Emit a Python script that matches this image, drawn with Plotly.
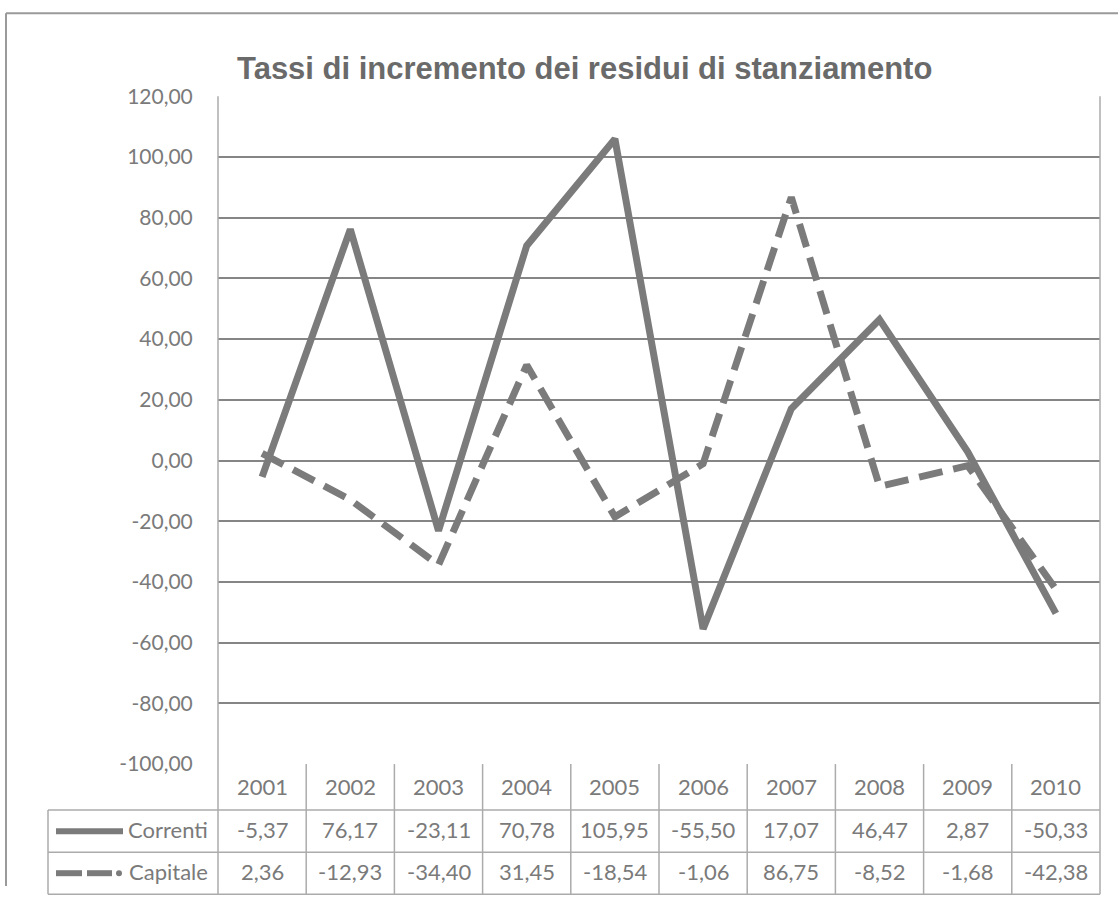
import plotly.graph_objects as go

title = "Tassi di incremento dei residui di stanziamento"
years = ["2001", "2002", "2003", "2004", "2005", "2006", "2007", "2008", "2009", "2010"]
correnti = [-5.37, 76.17, -23.11, 70.78, 105.95, -55.50, 17.07, 46.47, 2.87, -50.33]
capitale = [2.36, -12.93, -34.40, 31.45, -18.54, -1.06, 86.75, -8.52, -1.68, -42.38]
series_names = ["Correnti", "Capitale"]
y_ticks = [120, 100, 80, 60, 40, 20, 0, -20, -40, -60, -80, -100]

W, H = 1118, 897
LINE_COL = "#7b7b7b"
TEXT_COL = "#7a7a7a"
GRID_COL = "#858585"
TABLE_COL = "#ababab"
FONT = "Lato"
TXT_SHIFT = -14

# vertical calibration of the photographed page
V_OFF, V_SC = 13.8, 0.971

def px_x(p):
    return p / W

def px_y(p):
    f = (p - V_OFF) / V_SC
    return 1 - f / H

plot_l, plot_r, plot_t, plot_b = 218, 1100, 96, 763
row_top, row_mid, row_bot = 809, 851, 893
tab_l = 48

def fmt(v):
    return f"{v:.2f}".replace(".", ",")

xs = list(range(len(years)))

fig = go.Figure()
fig.add_trace(go.Scatter(x=xs, y=correnti, mode="lines", name=series_names[0],
                         line=dict(color=LINE_COL, width=7), showlegend=False))
fig.add_trace(go.Scatter(x=xs, y=capitale, mode="lines", name=series_names[1],
                         line=dict(color=LINE_COL, width=7, dash="24px,11px"), showlegend=False))

shapes = []
# outer frame
shapes.append(dict(type="line", xref="paper", yref="paper", x0=px_x(6), x1=1, y0=px_y(13), y1=px_y(13),
                   line=dict(color="#9a9a9a", width=2)))
shapes.append(dict(type="line", xref="paper", yref="paper", x0=px_x(6), x1=px_x(6), y0=px_y(13), y1=0,
                   line=dict(color="#9a9a9a", width=2)))
# plot left & right borders
shapes.append(dict(type="line", xref="paper", yref="paper", x0=px_x(plot_l), x1=px_x(plot_l),
                   y0=px_y(plot_t), y1=px_y(row_bot), line=dict(color=TABLE_COL, width=1.5)))
shapes.append(dict(type="line", xref="paper", yref="paper", x0=px_x(plot_r), x1=px_x(plot_r),
                   y0=px_y(plot_t), y1=px_y(row_bot), line=dict(color=TABLE_COL, width=1.5)))
# table horizontal lines
for yy in (row_top, row_mid, row_bot):
    shapes.append(dict(type="line", xref="paper", yref="paper", x0=px_x(tab_l), x1=px_x(plot_r),
                       y0=px_y(yy), y1=px_y(yy), line=dict(color=TABLE_COL, width=1.5)))
shapes.append(dict(type="line", xref="paper", yref="paper", x0=px_x(tab_l), x1=px_x(tab_l),
                   y0=px_y(row_top), y1=px_y(row_bot), line=dict(color=TABLE_COL, width=1.5)))
# column dividers
for i in range(len(years) - 1):
    shapes.append(dict(type="line", xref="x", yref="paper", x0=i + 0.5, x1=i + 0.5,
                       y0=px_y(plot_b), y1=px_y(row_bot), line=dict(color=TABLE_COL, width=1.5)))
# legend keys
yc = px_y(830)
shapes.append(dict(type="line", xref="paper", yref="paper", x0=px_x(56), x1=px_x(123), y0=yc, y1=yc,
                   line=dict(color=LINE_COL, width=6)))
yk = px_y(872)
for a, b in ((56, 82), (87, 112)):
    shapes.append(dict(type="line", xref="paper", yref="paper", x0=px_x(a), x1=px_x(b), y0=yk, y1=yk,
                       line=dict(color=LINE_COL, width=6)))
shapes.append(dict(type="circle", xref="paper", yref="paper", x0=px_x(116), x1=px_x(122),
                   y0=px_y(875), y1=px_y(869), fillcolor=LINE_COL, line=dict(width=0)))

annotations = []
annotations.append(dict(text=title, xref="paper", yref="paper", x=px_x(584), y=px_y(68),
                        showarrow=False, xanchor="center", yanchor="middle",
                        font=dict(family="Liberation Sans", size=31, color="#6a6a6a", weight="bold")))
cell_font = dict(family=FONT, size=22, color=TEXT_COL)
for i, yr in enumerate(years):
    annotations.append(dict(text=yr, xref="x", yref="paper", x=i, y=px_y(787), yshift=TXT_SHIFT,
                            showarrow=False, font=cell_font))
    annotations.append(dict(text=fmt(correnti[i]), xref="x", yref="paper", x=i, y=px_y(830), yshift=TXT_SHIFT,
                            showarrow=False, font=cell_font))
    annotations.append(dict(text=fmt(capitale[i]), xref="x", yref="paper", x=i, y=px_y(872), yshift=TXT_SHIFT,
                            showarrow=False, font=cell_font))
annotations.append(dict(text=series_names[0], xref="paper", yref="paper", x=px_x(210), y=px_y(830),
                        yshift=TXT_SHIFT, xanchor="right", showarrow=False, font=cell_font))
annotations.append(dict(text=series_names[1], xref="paper", yref="paper", x=px_x(210), y=px_y(872),
                        yshift=TXT_SHIFT, xanchor="right", showarrow=False, font=cell_font))

fig.update_layout(
    width=W, height=H,
    margin=dict(l=0, r=0, t=0, b=0),
    paper_bgcolor="white", plot_bgcolor="white",
    separators=",.",
    showlegend=False,
    xaxis=dict(domain=[px_x(plot_l), px_x(plot_r)], range=[-0.5, len(years) - 0.5],
               showgrid=False, zeroline=False, showticklabels=False, ticks="", showline=False),
    yaxis=dict(domain=[px_y(plot_b), px_y(plot_t)], range=[-100, 120],
               tickvals=y_ticks, ticktext=[fmt(v) for v in y_ticks],
               showgrid=True, gridcolor=GRID_COL, gridwidth=1.5,
               zeroline=False, showline=False, ticks="outside", ticklen=20, tickcolor="rgba(0,0,0,0)",
               tickfont=dict(family=FONT, size=21, color=TEXT_COL)),
    shapes=shapes,
    annotations=annotations,
)

fig.write_html("out.html", config={"displayModeBar": False},
               post_script="document.body.style.margin='0';document.body.style.overflow='hidden';")
